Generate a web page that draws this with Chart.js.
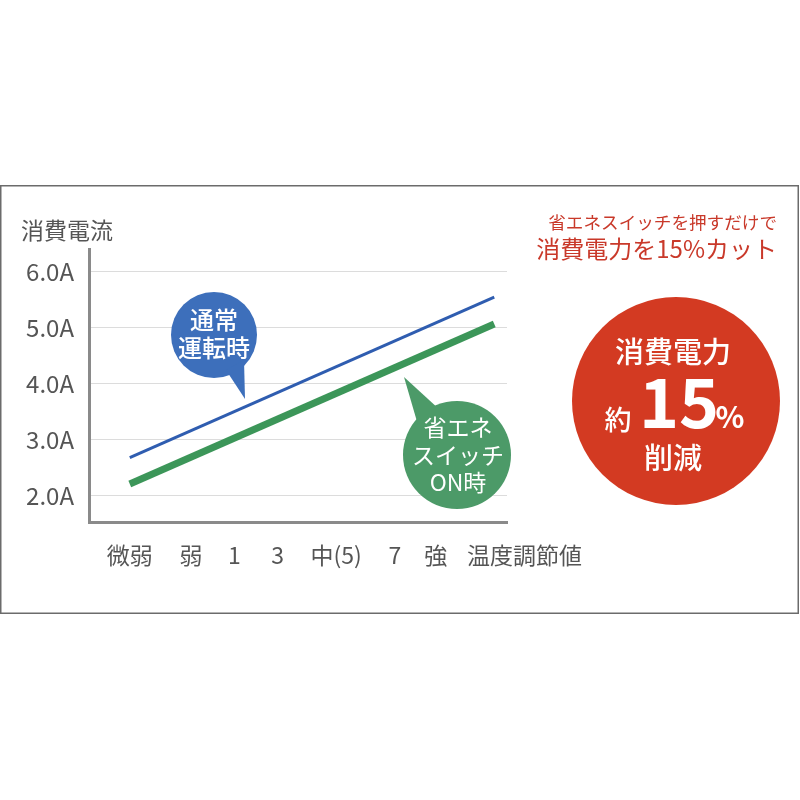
<!DOCTYPE html>
<html>
<head>
<meta charset="utf-8">
<script src="https://cdn.jsdelivr.net/npm/chart.js@4/dist/chart.umd.min.js"></script>
<style>
  html, body { margin: 0; padding: 0; background: #fff; }
  #wrap { width: 800px; height: 800px; }
</style>
</head>
<body>
<div id="wrap"><canvas id="currentChart" width="800" height="800"></canvas></div>
<script>
const FONT = "'Noto Sans CJK JP', 'Noto Sans', sans-serif";

// x positions of the setting labels along the (linear) x axis
const categories = ["微弱", "弱", "1", "3", "中(5)", "7", "強"];
const categoryPos = [0.8, 2.0, 2.85, 3.7, 4.85, 6.0, 6.8];

// both lines run from the first setting to just past "強"
const lineX = [0.8, 7.95];
const normalAmps = [2.68, 5.55];
const ecoAmps = [2.21, 5.07];

const yTicks = [2, 3, 4, 5, 6];

const toPoints = (xs, ys) => xs.map((x, i) => ({ x: x, y: ys[i] }));

// frame, titles, speech bubbles and the red badge
const decorations = {
  id: "decorations",
  beforeDraw(chart) {
    const ctx = chart.ctx;
    ctx.save();
    ctx.fillStyle = "#fff";
    ctx.fillRect(0, 0, chart.width, chart.height);
    ctx.strokeStyle = "#6b6b6b";
    ctx.lineWidth = 1.5;
    ctx.strokeRect(0.75, 185.75, 797.5, 427.5);
    ctx.restore();
  },
  afterDraw(chart) {
    const ctx = chart.ctx;
    const area = chart.chartArea;
    ctx.save();

    // y axis title and x axis title
    ctx.fillStyle = "#555";
    ctx.textBaseline = "middle";
    ctx.textAlign = "left";
    ctx.font = "23px " + FONT;
    ctx.fillText("消費電流", 21, 230);
    ctx.fillText("温度調節値", area.right - 40, 555);

    // blue bubble
    ctx.fillStyle = "#3d6fbb";
    ctx.beginPath();
    ctx.arc(214, 335, 43, 0, Math.PI * 2);
    ctx.fill();
    ctx.beginPath();
    ctx.moveTo(226, 370);
    ctx.lineTo(245, 399);
    ctx.lineTo(244, 360);
    ctx.closePath();
    ctx.fill();
    ctx.fillStyle = "#fff";
    ctx.textAlign = "center";
    ctx.font = "500 24px " + FONT;
    ctx.fillText("通常", 214, 320);
    ctx.fillText("運転時", 214, 348);

    // green bubble
    ctx.fillStyle = "#4c9a68";
    ctx.beginPath();
    ctx.arc(457, 455, 54, 0, Math.PI * 2);
    ctx.fill();
    ctx.beginPath();
    ctx.moveTo(418, 425);
    ctx.lineTo(404, 377);
    ctx.lineTo(440, 410);
    ctx.closePath();
    ctx.fill();
    ctx.fillStyle = "#fff";
    ctx.font = "23px " + FONT;
    ctx.fillText("省エネ", 458, 427);
    ctx.fillText("スイッチ", 458, 455);
    ctx.fillText("ON時", 458, 482);

    // red text, top right
    ctx.fillStyle = "#c9392a";
    ctx.textAlign = "right";
    ctx.font = "17.6px " + FONT;
    ctx.fillText("省エネスイッチを押すだけで", 777, 222);
    ctx.font = "24px " + FONT;
    ctx.fillText("消費電力を15%カット", 777, 249);

    // red badge
    ctx.fillStyle = "#d33a22";
    ctx.beginPath();
    ctx.arc(676, 401, 104, 0, Math.PI * 2);
    ctx.fill();
    ctx.fillStyle = "#fff";
    ctx.textAlign = "center";
    ctx.font = "500 29px " + FONT;
    ctx.fillText("消費電力", 673, 352);
    ctx.fillText("削減", 673, 458);
    ctx.textBaseline = "alphabetic";
    ctx.font = "500 27px " + FONT;
    ctx.fillText("約", 618, 430);
    ctx.font = "bold 68px " + FONT;
    ctx.fillText("15", 679, 428);
    ctx.font = "bold 30px " + FONT;
    ctx.fillText("%", 730, 428);

    ctx.restore();
  }
};

new Chart(document.getElementById("currentChart"), {
  type: "line",
  data: {
    datasets: [
      {
        label: "通常運転時",
        data: toPoints(lineX, normalAmps),
        borderColor: "#2f5db0",
        borderWidth: 3,
        pointRadius: 0,
      },
      {
        label: "省エネスイッチON時",
        data: toPoints(lineX, ecoAmps),
        borderColor: "#3c9659",
        borderWidth: 7,
        pointRadius: 0,
      },
    ],
  },
  options: {
    responsive: false,
    animation: false,
    devicePixelRatio: 1,
    layout: { padding: { left: 0, top: 249, right: 293, bottom: 228 } },
    plugins: {
      legend: { display: false },
      tooltip: { enabled: false },
    },
    scales: {
      x: {
        type: "linear",
        min: 0,
        max: 8.2,
        afterFit: (scale) => { scale.height = 50; },
        afterBuildTicks: (scale) => {
          scale.ticks = categoryPos.map((v) => ({ value: v }));
        },
        ticks: {
          autoSkip: false,
          maxRotation: 0,
          padding: 19,
          color: "#555",
          font: { family: FONT, size: 23 },
          callback: (value) => categories[categoryPos.indexOf(value)],
        },
        grid: { display: false, drawTicks: false },
        border: { color: "#8a8a8a", width: 3 },
      },
      y: {
        min: 1.53,
        max: 6.41,
        afterFit: (scale) => { scale.width = 89; },
        afterBuildTicks: (scale) => {
          scale.ticks = yTicks.map((v) => ({ value: v }));
        },
        ticks: {
          padding: 15,
          color: "#555",
          font: { family: FONT, size: 24 },
          callback: (value) => value.toFixed(1) + "A",
        },
        grid: { color: "#dcdcdc", lineWidth: 1, drawTicks: false },
        border: { color: "#8a8a8a", width: 3 },
      },
    },
  },
  plugins: [decorations],
});
</script>
</body>
</html>
